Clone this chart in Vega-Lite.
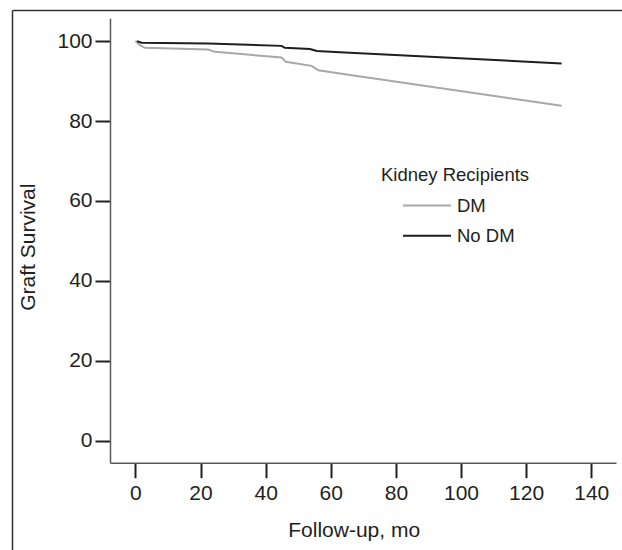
{
  "$schema": "https://vega.github.io/schema/vega-lite/v6.json",
  "autosize": {"type": "none"},
  "padding": {"left": 12, "top": 10, "right": 0, "bottom": 0},
  "width": 610,
  "height": 540,
  "background": "white",
  "config": {
    "view": {"stroke": null},
    "font": "Liberation Sans"
  },
  "data": {
    "values": [
      {"group": "DM", "month": 0, "survival": 100},
      {"group": "DM", "month": 1.4, "survival": 99.0},
      {"group": "DM", "month": 2.9, "survival": 98.3},
      {"group": "DM", "month": 22.4, "survival": 97.9},
      {"group": "DM", "month": 24.4, "survival": 97.3},
      {"group": "DM", "month": 44.9, "survival": 95.9},
      {"group": "DM", "month": 46.2, "survival": 94.8},
      {"group": "DM", "month": 54.1, "survival": 93.8},
      {"group": "DM", "month": 56.2, "survival": 92.7},
      {"group": "DM", "month": 62.8, "survival": 91.9},
      {"group": "DM", "month": 130.9, "survival": 83.8},
      {"group": "No DM", "month": 0.5, "survival": 100},
      {"group": "No DM", "month": 1.9, "survival": 99.6},
      {"group": "No DM", "month": 22.4, "survival": 99.4},
      {"group": "No DM", "month": 44.9, "survival": 98.8},
      {"group": "No DM", "month": 45.9, "survival": 98.3},
      {"group": "No DM", "month": 53.6, "survival": 98.0},
      {"group": "No DM", "month": 55.7, "survival": 97.5},
      {"group": "No DM", "month": 62.8, "survival": 97.2},
      {"group": "No DM", "month": 130.9, "survival": 94.4}
    ]
  },
  "layer": [
    {
      "mark": {"type": "line", "strokeWidth": 2, "interpolate": "linear"},
      "encoding": {
        "x": {
          "field": "month",
          "type": "quantitative",
          "scale": {"domain": [-7.8, 147.6], "range": [98, 604], "nice": false, "zero": false},
          "axis": {
            "orient": "bottom",
            "title": "Follow-up, mo",
            "values": [0, 20, 40, 60, 80, 100, 120, 140],
            "offset": -87.3,
            "grid": false,
            "domainColor": "#5a5a5a",
            "domainWidth": 1.5,
            "tickColor": "#231f20",
            "tickWidth": 2,
            "tickSize": 15,
            "labelFontSize": 21,
            "labelColor": "#231f20",
            "labelPadding": 5,
            "labelFlush": false,
            "labelOverlap": false,
            "titleFontSize": 21,
            "titleFontWeight": "normal",
            "titleColor": "#231f20",
            "titleX": 341.7,
            "titleY": 74,
            "titleBaseline": "alphabetic",
            "titleAlign": "center"
          }
        },
        "y": {
          "field": "survival",
          "type": "quantitative",
          "scale": {"domain": [-5.5, 105.7], "range": [452.7, 8.3], "nice": false, "zero": false},
          "axis": {
            "orient": "left",
            "title": "Graft Survival",
            "values": [0, 20, 40, 60, 80, 100],
            "offset": -98,
            "grid": false,
            "domainColor": "#5a5a5a",
            "domainWidth": 1.5,
            "tickColor": "#231f20",
            "tickWidth": 2,
            "tickSize": 15,
            "labelFontSize": 21,
            "labelColor": "#231f20",
            "labelPadding": 3,
            "labelFlush": false,
            "labelOverlap": false,
            "titleFontSize": 21,
            "titleFontWeight": "normal",
            "titleColor": "#231f20",
            "titleAngle": 270,
            "titleX": -75.5,
            "titleY": 236.7,
            "titleBaseline": "alphabetic",
            "titleAlign": "center"
          }
        },
        "color": {
          "field": "group",
          "type": "nominal",
          "scale": {"domain": ["DM", "No DM"], "range": ["#a8a8a8", "#1e1e1e"]},
          "legend": {
            "orient": "none",
            "legendX": 369,
            "legendY": 156,
            "padding": 0,
            "title": "Kidney Recipients",
            "titleFontSize": 18.5,
            "titleFontWeight": "normal",
            "titleColor": "#231f20",
            "titlePadding": 12,
            "labelFontSize": 18.5,
            "labelColor": "#231f20",
            "symbolType": "stroke",
            "symbolSize": 2304,
            "symbolStrokeWidth": 2,
            "symbolOffset": 21,
            "labelOffset": 5,
            "clipHeight": 18,
            "rowPadding": 11.3
          }
        }
      }
    },
    {
      "mark": {"type": "line", "strokeOpacity": 0},
      "encoding": {
        "x": {
          "field": "month",
          "type": "quantitative",
          "scale": {"nice": false, "zero": false},
          "axis": {"orient": "top", "title": null, "ticks": false, "labels": false, "grid": false, "domainColor": "#333333", "domainWidth": 1.5, "offset": 0}
        },
        "y": {
          "field": "survival",
          "type": "quantitative",
          "scale": {"nice": false, "zero": false},
          "axis": {"orient": "left", "title": null, "ticks": false, "labels": false, "grid": false, "domainColor": "#333333", "domainWidth": 1.5, "offset": 0}
        },
        "detail": {"field": "group", "type": "nominal"}
      }
    }
  ],
  "resolve": {
    "scale": {"x": "independent", "y": "independent"},
    "axis": {"x": "independent", "y": "independent"}
  }
}
